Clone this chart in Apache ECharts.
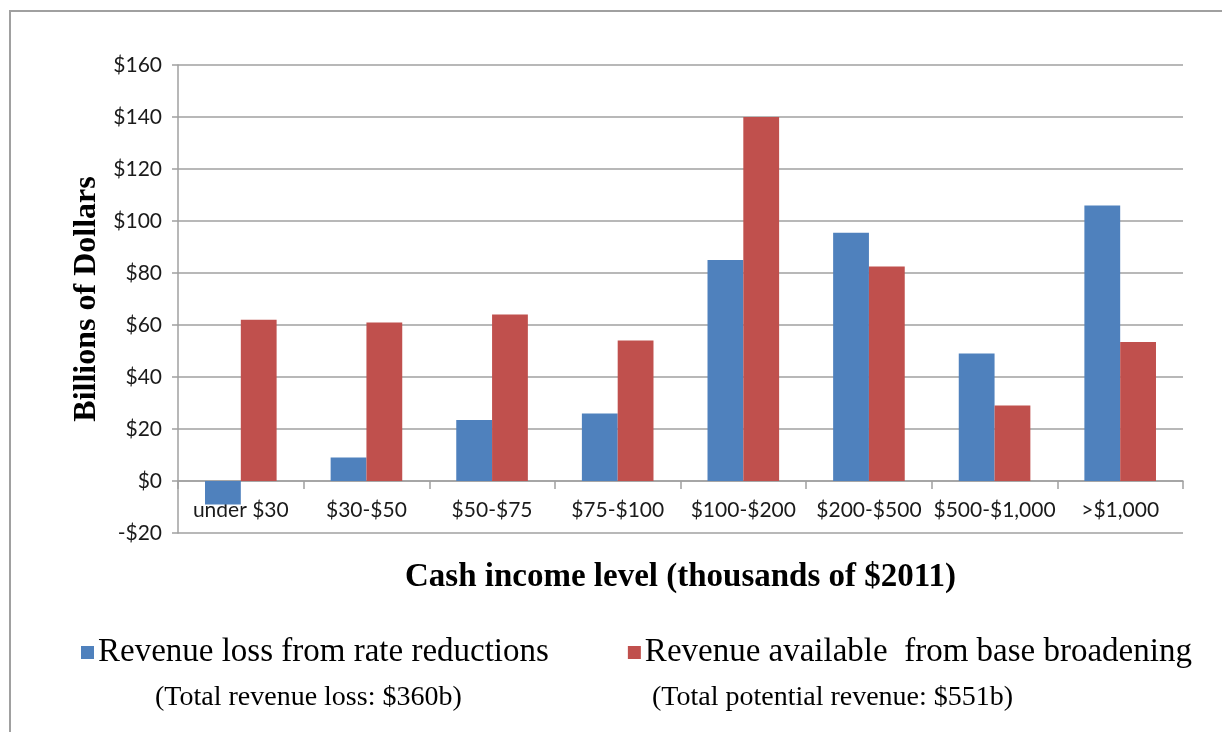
<!DOCTYPE html>
<html>
<head>
<meta charset="utf-8">
<script src="https://cdn.jsdelivr.net/npm/echarts@6/dist/echarts.min.js"></script>
<style>
	html, body { margin: 0; padding: 0; background: #fff; }
	#chart { width: 1222px; height: 732px; }
</style>
</head>
<body>
<div id="chart"></div>
<script>
// categories (thousands of $2011)
const incomeLevels = ['under $30', '$30-$50', '$50-$75', '$75-$100', '$100-$200', '$200-$500', '$500-$1,000', '>$1,000'];
// billions of dollars
const rateReductionLoss = [-9, 9, 23.5, 26, 85, 95.5, 49, 106];
const baseBroadeningGain = [62, 61, 64, 54, 140, 82.5, 29, 53.5];
const seriesNames = ['Revenue loss from rate reductions', 'Revenue available  from base broadening'];
const totalNotes = ['(Total revenue loss: $360b)', '(Total potential revenue: $551b)'];

const myChart = echarts.init(document.getElementById('chart'));
const serif = '"Liberation Serif", "Times New Roman", serif';
const sans = 'Lato, "Open Sans", sans-serif';

const option = {
	animation: false,
	color: ['#4F81BD', '#C0504D'],
	grid: { left: 178, right: 39, top: 65, bottom: 199 },
	legend: {
		data: seriesNames,
		left: 76,
		top: 631,
		icon: 'rect',
		itemWidth: 13,
		itemHeight: 13,
		itemGap: 79,
		textStyle: { fontFamily: serif, fontSize: 33, color: '#000', padding: [0, 0, 0, -1] },
	},
	xAxis: {
		type: 'category',
		data: incomeLevels,
		name: 'Cash income level (thousands of $2011)',
		nameLocation: 'middle',
		nameGap: 28,
		nameTextStyle: { fontFamily: serif, fontSize: 33, fontWeight: 'bold', color: '#000' },
		axisLine: { onZero: true, lineStyle: { color: '#a0a0a0', width: 1.5 } },
		axisTick: { show: true, length: 8, lineStyle: { color: '#a0a0a0', width: 1.5 } },
		axisLabel: { fontFamily: sans, fontSize: 21, color: '#1a1a1a', margin: -33, interval: 0 },
	},
	yAxis: {
		type: 'value',
		min: -20,
		max: 160,
		interval: 20,
		name: 'Billions of Dollars',
		nameLocation: 'middle',
		nameGap: 72,
		nameTextStyle: { fontFamily: serif, fontSize: 32, fontWeight: 'bold', color: '#000' },
		axisLine: { show: true, lineStyle: { color: '#a0a0a0', width: 1.5 } },
		axisTick: { show: true, length: 6, lineStyle: { color: '#a0a0a0', width: 1.5 } },
		axisLabel: {
			fontFamily: sans, fontSize: 21, color: '#1a1a1a', margin: 16,
			formatter: (v) => (v < 0 ? '-$' + Math.abs(v) : '$' + v),
		},
		splitLine: { lineStyle: { color: '#a0a0a0', width: 1.5 } },
	},
	series: [
		{ name: seriesNames[0], type: 'bar', data: rateReductionLoss, barGap: '0%', barCategoryGap: '43%' },
		{ name: seriesNames[1], type: 'bar', data: baseBroadeningGain, barGap: '0%', barCategoryGap: '43%' },
	],
	graphic: [
		// outer frame
		{ type: 'rect', shape: { x: 10, y: 11, width: 1240, height: 760 }, style: { fill: 'none', stroke: '#a0a0a0', lineWidth: 2 }, silent: true },
		{ type: 'text', left: 155, top: 684, style: { text: totalNotes[0], font: '28px ' + serif, fill: '#000' } },
		{ type: 'text', left: 652, top: 684, style: { text: totalNotes[1], font: '28px ' + serif, fill: '#000' } },
	],
};
myChart.setOption(option);
</script>
</body>
</html>
